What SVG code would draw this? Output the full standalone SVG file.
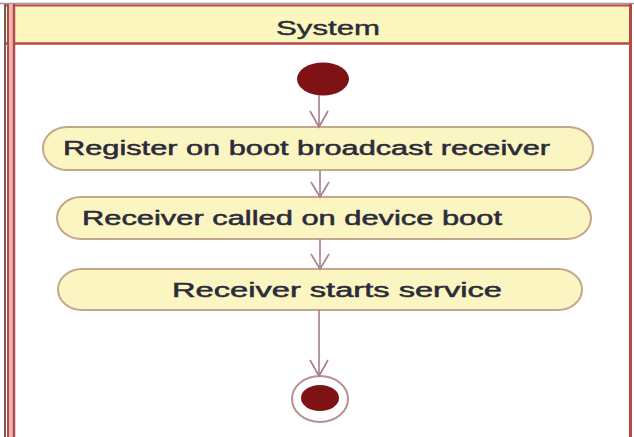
<svg xmlns="http://www.w3.org/2000/svg" width="634" height="437" viewBox="0 0 634 437">
<style>
.act{fill:#fbf5c2;stroke:#c4a68a;stroke-width:2}
.lbl{font-family:"Liberation Sans",Arial,sans-serif;font-size:20px;fill:#2b2b3a;stroke:#2b2b3a;stroke-width:0.5}
.conn line{stroke:#a87c8c;stroke-width:1.6;fill:none}
.conn path{stroke:#a87c8c;stroke-width:1.6;fill:none}
.red{stroke:#b84848;fill:none}
</style>
<rect x="0" y="0" width="634" height="437" fill="#ffffff"/>
<g id="frame">
  <rect x="4" y="4" width="628" height="40" fill="#faf6bd"/>
  <line x1="0" y1="3.5" x2="634" y2="3.5" stroke="#9a9a9a" stroke-width="1.5"/>
  <line x1="4" y1="5.5" x2="632" y2="5.5" class="red" stroke-width="2"/>
  <line x1="4" y1="43.5" x2="632" y2="43.5" class="red" stroke-width="2.5"/>
  <rect x="8" y="4" width="6" height="433" fill="#e8b8b8"/>
  <line x1="5" y1="4" x2="5" y2="437" stroke="#7a5a5a" stroke-width="2"/>
  <line x1="8" y1="4" x2="8" y2="437" class="red" stroke-width="2"/>
  <line x1="14" y1="4" x2="14" y2="437" class="red" stroke-width="2.5"/>
  <line x1="630.5" y1="4" x2="630.5" y2="437" class="red" stroke-width="3"/>
  <text x="328" y="35" text-anchor="middle" font-family="'Liberation Sans',Arial,sans-serif" font-size="20" fill="#2b2b3a" stroke="#2b2b3a" stroke-width="0.4" textLength="104" lengthAdjust="spacingAndGlyphs">System</text>
</g>
<g id="start">
  <ellipse cx="323" cy="79" rx="26" ry="16.5" fill="#7e1214"/>
</g>
<g id="act1">
  <rect class="act" x="43" y="127" width="550" height="43" rx="24" ry="21.5"/>
  <text class="lbl" x="63" y="155" textLength="487" lengthAdjust="spacingAndGlyphs">Register on boot broadcast receiver</text>
</g>
<g id="act2">
  <rect class="act" x="57" y="197" width="534" height="42" rx="24" ry="21"/>
  <text class="lbl" x="82" y="225" textLength="420" lengthAdjust="spacingAndGlyphs">Receiver called on device boot</text>
</g>
<g id="act3">
  <rect class="act" x="58" y="269" width="524" height="41" rx="24" ry="20.5"/>
  <text class="lbl" x="172" y="297" textLength="330" lengthAdjust="spacingAndGlyphs">Receiver  starts  service</text>
</g>
<g id="end">
  <ellipse cx="320" cy="399" rx="28" ry="23" fill="#ffffff" stroke="#b89090" stroke-width="2"/>
  <ellipse cx="320" cy="398" rx="19" ry="13" fill="#7e1214"/>
</g>
<g id="connectors" class="conn">
  <line x1="319" y1="95" x2="319" y2="127"/>
  <path d="M310 111 L319 127 L328 111"/>
  <line x1="320" y1="170" x2="320" y2="197"/>
  <path d="M311 182 L320 197 L329 182"/>
  <line x1="320" y1="239" x2="320" y2="269"/>
  <path d="M311 254 L320 269 L329 254"/>
  <line x1="319" y1="310" x2="319" y2="376"/>
  <path d="M310 360 L319 376 L328 360"/>
</g>
</svg>
